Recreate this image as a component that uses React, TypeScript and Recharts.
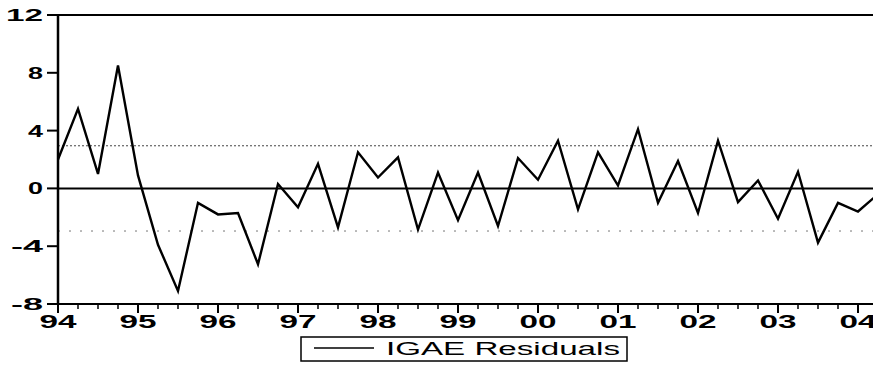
import { LineChart, Line, XAxis, YAxis, ReferenceLine, Legend } from "recharts";

const years = ["94", "95", "96", "97", "98", "99", "00", "01", "02", "03", "04"];

// quarterly residuals, 1994Q1 .. 2004Q2
const residuals = [
  2.0, 5.5, 1.0, 8.5,
  0.9, -3.9, -7.1, -1.0,
  -1.8, -1.7, -5.25, 0.3,
  -1.3, 1.7, -2.7, 2.5,
  0.75, 2.15, -2.85, 1.1,
  -2.2, 1.1, -2.6, 2.1,
  0.6, 3.3, -1.45, 2.5,
  0.2, 4.1, -1.0, 1.9,
  -1.7, 3.3, -0.95, 0.55,
  -2.1, 1.15, -3.75, -1.0,
  -1.6, -0.4,
];

const yTicks = [-8, -4, 0, 4, 8, 12];
const bandLevel = 2.95;

const data = residuals.map((v, i) => ({
  i,
  quarter: `${years[Math.floor(i / 4)]}Q${(i % 4) + 1}`,
  residual: v,
}));
const quarterTicks = data.map((d) => d.i);

const FONT = "'Liberation Sans', Arial, sans-serif";

const XTick = (props: any) => {
  const { x, y, payload } = props;
  const i = payload.value as number;
  const isYear = i % 4 === 0;
  return (
    <g>
      <line x1={x} x2={x} y1={y} y2={y + (isYear ? 9 : 5)} stroke="#000" strokeWidth={isYear ? 2 : 1.5} />
      {isYear && (
        <text x={x} y={y + 24} textAnchor="middle" fontFamily={FONT} fontWeight="bold" fontSize={19}
          textLength={37} lengthAdjust="spacingAndGlyphs" fill="#000">
          {years[i / 4]}
        </text>
      )}
    </g>
  );
};

const YTick = (props: any) => {
  const { x, y, payload } = props;
  const label = String(payload.value);
  const len = label.length === 1 ? 15 : label.startsWith("-") ? 32 : 37;
  return (
    <g>
      <line x1={x - 11} x2={x} y1={y} y2={y} stroke="#000" strokeWidth={2} />
      <text x={x - 15} y={y + 6} textAnchor="end" fontFamily={FONT} fontWeight="bold" fontSize={17}
        textLength={len} lengthAdjust="spacingAndGlyphs" fill="#000">
        {label}
      </text>
    </g>
  );
};

const LegendBox = () => (
  <svg width={330} height={28}>
    <rect x={1} y={2} width={326} height={24} fill="#fff" stroke="#000" strokeWidth={1.5} />
    <line x1={14} x2={74} y1={13} y2={13} stroke="#000" strokeWidth={1.5} />
    <text x={86} y={20} fontFamily={FONT} fontSize={18} textLength={234} lengthAdjust="spacingAndGlyphs" fill="#000">
      IGAE Residuals
    </text>
  </svg>
);

export default function App() {
  return (
    <div style={{ position: "fixed", left: 0, top: 0, width: 873, height: 371, overflow: "hidden", background: "#fff" }}>
      <LineChart width={900} height={371} data={data} margin={{ top: 15, right: 22, bottom: 0, left: 0 }}>
        <XAxis type="number" dataKey="i" domain={[0, residuals.length - 1]} ticks={quarterTicks} interval={0}
          tick={<XTick />} tickLine={false} tickSize={0} tickMargin={0} height={39}
          axisLine={{ stroke: "#000", strokeWidth: 2 }} />
        <YAxis domain={[-8, 12]} ticks={yTicks} interval={0} tick={<YTick />} tickLine={false}
          tickSize={0} tickMargin={0} width={58} axisLine={{ stroke: "#000", strokeWidth: 2.5 }} />
        <ReferenceLine y={12} stroke="#000" strokeWidth={2} />
        <ReferenceLine y={bandLevel} stroke="#444" strokeWidth={1} strokeDasharray="2 2" />
        <ReferenceLine y={-bandLevel} stroke="#777" strokeWidth={1} strokeDasharray="2 9" />
        <ReferenceLine y={0} stroke="#000" strokeWidth={2} />
        <Line type="linear" dataKey="residual" stroke="#000" strokeWidth={2.4} dot={false} isAnimationActive={false} />
        <Legend verticalAlign="bottom" content={<LegendBox />}
          wrapperStyle={{ position: "absolute", left: 300, top: 335, width: 330, height: 28 }} />
      </LineChart>
    </div>
  );
}
